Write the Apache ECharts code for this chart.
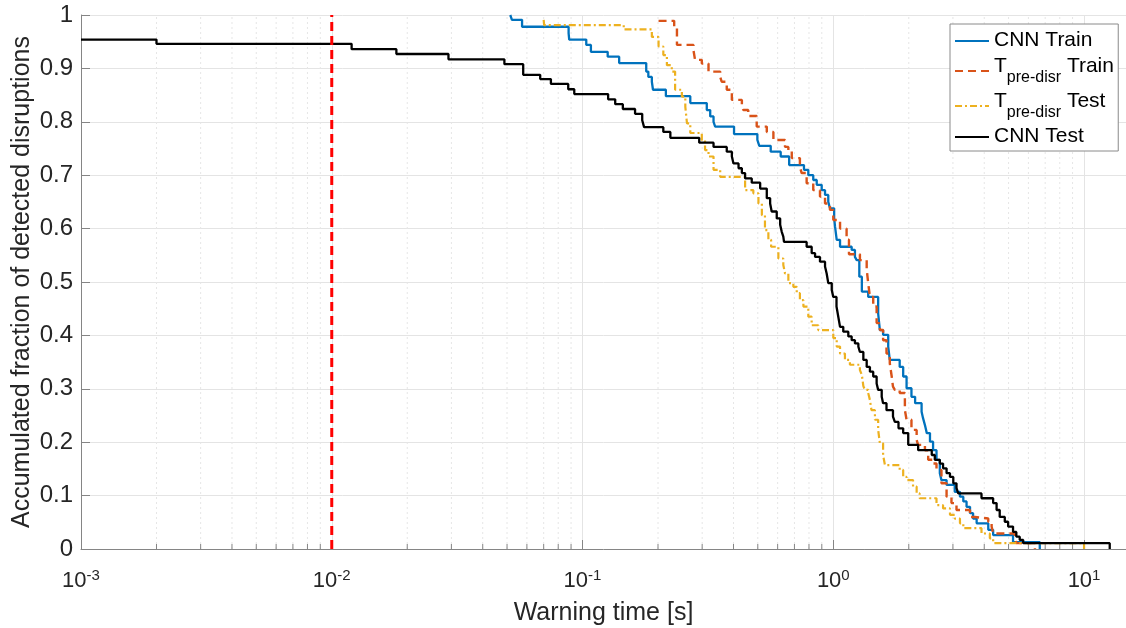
<!DOCTYPE html>
<html>
<head>
<meta charset="utf-8">
<script src="https://cdn.jsdelivr.net/npm/echarts@6/dist/echarts.min.js"></script>
<style>
  html, body { margin: 0; padding: 0; background: #fff; }
  #chart { width: 1126px; height: 628px; }
</style>
</head>
<body>
<div id="chart"></div>
<script>
// Accumulated fraction of detected disruptions vs. warning time (step curves)
const FONT = '"Liberation Sans", Arial, Helvetica, sans-serif';

const xMin = 0.001;
const xMax = 14.7;
const warningThreshold = 0.01;

// [warning time (s), fraction] — each point starts a new level of the staircase
const cnnTrain = [
  [0.0515, 1.0], [0.0523, 0.991], [0.0574, 0.978], [0.088, 0.966], [0.0885, 0.954],
  [0.1035, 0.944], [0.108, 0.931], [0.126, 0.922], [0.140, 0.910], [0.1795, 0.894],
  [0.183, 0.884], [0.189, 0.875], [0.191, 0.860], [0.215, 0.848], [0.269, 0.835],
  [0.313, 0.822], [0.323, 0.810], [0.333, 0.800], [0.338, 0.791], [0.402, 0.777],
  [0.498, 0.766], [0.507, 0.755], [0.563, 0.744], [0.617, 0.735], [0.667, 0.719],
  [0.764, 0.710], [0.795, 0.700], [0.832, 0.691], [0.859, 0.682], [0.899, 0.672],
  [0.927, 0.663], [0.955, 0.650], [0.970, 0.638], [1.008, 0.620], [1.016, 0.604],
  [1.032, 0.579], [1.064, 0.566], [1.184, 0.560], [1.22, 0.547], [1.24, 0.541],
  [1.27, 0.510], [1.30, 0.482], [1.378, 0.472], [1.51, 0.441], [1.534, 0.410],
  [1.58, 0.401], [1.656, 0.379], [1.68, 0.354], [1.84, 0.341], [1.90, 0.323],
  [1.96, 0.301], [2.05, 0.285], [2.12, 0.273], [2.25, 0.257], [2.28, 0.245],
  [2.32, 0.232], [2.36, 0.217], [2.43, 0.201], [2.50, 0.185], [2.58, 0.167],
  [2.66, 0.142], [2.70, 0.129], [2.83, 0.120], [3.05, 0.107], [3.20, 0.098],
  [3.30, 0.089], [3.40, 0.079], [3.51, 0.067], [3.61, 0.057], [3.73, 0.048],
  [4.15, 0.036], [4.34, 0.026], [5.21, 0.013], [6.66, 0]
];

const tpreTrain = [
  [0.201, 0.989], [0.232, 0.978], [0.238, 0.944], [0.277, 0.934], [0.281, 0.916],
  [0.299, 0.909], [0.318, 0.894], [0.354, 0.884], [0.359, 0.875], [0.376, 0.860],
  [0.394, 0.841], [0.432, 0.828], [0.438, 0.822], [0.458, 0.811], [0.495, 0.791],
  [0.543, 0.781], [0.577, 0.766], [0.642, 0.753], [0.662, 0.747], [0.683, 0.732],
  [0.736, 0.716], [0.748, 0.704], [0.783, 0.685], [0.832, 0.672], [0.885, 0.660],
  [0.927, 0.647], [0.970, 0.635], [1.0, 0.616], [1.064, 0.600], [1.13, 0.579],
  [1.155, 0.552], [1.277, 0.541], [1.359, 0.524], [1.378, 0.498], [1.40, 0.472],
  [1.443, 0.454], [1.489, 0.423], [1.534, 0.410], [1.58, 0.391], [1.63, 0.366],
  [1.68, 0.348], [1.71, 0.323], [1.73, 0.304], [1.76, 0.298], [1.84, 0.292],
  [1.93, 0.260], [1.96, 0.242], [2.05, 0.223], [2.15, 0.204], [2.18, 0.195],
  [2.32, 0.185], [2.39, 0.167], [2.50, 0.160], [2.58, 0.148], [2.70, 0.123],
  [2.83, 0.098], [2.96, 0.086], [3.10, 0.073], [3.51, 0.060], [3.67, 0.057],
  [4.15, 0.051], [4.28, 0.042], [4.34, 0.029], [5.30, 0.023], [5.37, 0.011],
  [6.37, 0]
];

const tpreTest = [
  [0.0700, 0.991], [0.0703, 0.981], [0.146, 0.973], [0.189, 0.959], [0.201, 0.941],
  [0.210, 0.925], [0.217, 0.906], [0.227, 0.894], [0.234, 0.860], [0.249, 0.847],
  [0.257, 0.828], [0.261, 0.797], [0.269, 0.779], [0.299, 0.766], [0.308, 0.747],
  [0.318, 0.735], [0.333, 0.710], [0.354, 0.697], [0.445, 0.672], [0.480, 0.666],
  [0.503, 0.647], [0.519, 0.625], [0.534, 0.597], [0.551, 0.579], [0.565, 0.566],
  [0.604, 0.544], [0.632, 0.532], [0.642, 0.516], [0.662, 0.498], [0.693, 0.491],
  [0.715, 0.479], [0.736, 0.466], [0.760, 0.454], [0.795, 0.435], [0.820, 0.419],
  [0.871, 0.410], [1.0, 0.395], [1.032, 0.379], [1.064, 0.366], [1.113, 0.354],
  [1.165, 0.345], [1.277, 0.335], [1.30, 0.326], [1.318, 0.305], [1.337, 0.298],
  [1.378, 0.292], [1.40, 0.279], [1.42, 0.260], [1.466, 0.242], [1.51, 0.223],
  [1.534, 0.198], [1.58, 0.176], [1.607, 0.157], [1.84, 0.148], [1.90, 0.135],
  [1.96, 0.129], [2.08, 0.117], [2.15, 0.104], [2.21, 0.095], [2.58, 0.082],
  [2.74, 0.076], [2.92, 0.064], [3.05, 0.057], [3.20, 0.048], [3.30, 0.039],
  [3.90, 0.029], [4.21, 0.020], [4.34, 0.011], [10.0, 0]
];

const cnnTest = [
  [0.001, 0.954], [0.002, 0.946], [0.012, 0.936], [0.0181, 0.927], [0.0292, 0.917],
  [0.0488, 0.908], [0.058, 0.888], [0.0678, 0.880], [0.0748, 0.871], [0.0877, 0.861],
  [0.0927, 0.852], [0.1265, 0.842], [0.135, 0.833], [0.1448, 0.824], [0.162, 0.815],
  [0.173, 0.803], [0.176, 0.790], [0.210, 0.781], [0.224, 0.770], [0.292, 0.761],
  [0.333, 0.753], [0.376, 0.744], [0.394, 0.735], [0.400, 0.722], [0.419, 0.713],
  [0.432, 0.704], [0.445, 0.694], [0.473, 0.686], [0.511, 0.675], [0.543, 0.657],
  [0.560, 0.647], [0.568, 0.632], [0.595, 0.619], [0.614, 0.607], [0.623, 0.594],
  [0.632, 0.585], [0.636, 0.575], [0.783, 0.566], [0.820, 0.554], [0.846, 0.547],
  [0.885, 0.538], [0.927, 0.529], [0.941, 0.516], [0.955, 0.498], [0.986, 0.485],
  [1.0, 0.472], [1.03, 0.454], [1.047, 0.435], [1.064, 0.416], [1.096, 0.407],
  [1.148, 0.398], [1.184, 0.391], [1.22, 0.385], [1.259, 0.379], [1.277, 0.369],
  [1.318, 0.354], [1.359, 0.341], [1.40, 0.332], [1.443, 0.323], [1.489, 0.310],
  [1.51, 0.298], [1.56, 0.285], [1.58, 0.273], [1.63, 0.260], [1.73, 0.248],
  [1.76, 0.238], [1.82, 0.226], [1.90, 0.217], [1.99, 0.195], [2.18, 0.185],
  [2.47, 0.176], [2.54, 0.167], [2.66, 0.160], [2.74, 0.151], [2.83, 0.142],
  [2.92, 0.135], [3.01, 0.123], [3.10, 0.114], [3.15, 0.104], [3.90, 0.095],
  [4.34, 0.086], [4.48, 0.073], [4.61, 0.060], [4.83, 0.051], [4.98, 0.042],
  [5.21, 0.032], [5.37, 0.023], [5.54, 0.017], [5.72, 0.011], [12.66, 0]
];

const seriesNames = ['CNN Train', 'Tpre-disr Train', 'Tpre-disr Test', 'CNN Test'];
const yTickLabels = ['0', '0.1', '0.2', '0.3', '0.4', '0.5', '0.6', '0.7', '0.8', '0.9', '1'];

// minor (2..9 x 10^k) positions for the log axis grid and ticks
const minorPositions = [];
for (let k = -3; k <= 1; k++) {
  for (let m = 2; m <= 9; m++) {
    const v = m * Math.pow(10, k);
    if (v < xMax) minorPositions.push([v, 0]);
  }
}

const TEXT = '#262626';
const AXIS = '#858585';
const GRID = '#e4e4e4';

function legendLabel(name) {
  if (name.indexOf('Tpre-disr') === 0) {
    return '{t|T}{s|pre-disr}{t|' + name.slice(9) + '}{g| }';
  }
  return '{t|' + name + '}';
}

const chart = echarts.init(document.getElementById('chart'), null, { renderer: 'canvas' });

chart.setOption({
  animation: false,
  backgroundColor: '#ffffff',
  textStyle: { fontFamily: FONT },
  grid: { left: 81, right: 0, top: 15, bottom: 79, containLabel: false, outerBoundsMode: 'none' },
  legend: {
    orient: 'vertical',
    left: 950,
    top: 24,
    data: seriesNames,
    backgroundColor: '#ffffff',
    borderColor: '#8a8a8a',
    borderWidth: 1,
    borderRadius: 0,
    padding: [6, 4, 4, 4],
    itemGap: 5,
    itemWidth: 34,
    itemHeight: 12,
    selectedMode: false,
    itemStyle: { opacity: 0 },
    formatter: legendLabel,
    textStyle: {
      color: '#000',
      fontFamily: FONT,
      fontSize: 21,
      rich: {
        t: { fontSize: 21, lineHeight: 22, verticalAlign: 'top', color: '#000', fontFamily: FONT },
        s: { fontSize: 16, lineHeight: 16, verticalAlign: 'bottom', color: '#000', fontFamily: FONT },
        g: { fontSize: 1, lineHeight: 30 }
      }
    }
  },
  xAxis: {
    type: 'log',
    logBase: 10,
    min: xMin,
    max: xMax,
    name: 'Warning time [s]',
    nameLocation: 'middle',
    nameGap: 52,
    nameMoveOverlap: false,
    nameTextStyle: { color: TEXT, fontSize: 25, fontFamily: FONT },
    axisLine: { show: true, onZero: false, lineStyle: { color: AXIS, width: 1 } },
    axisTick: { show: true, inside: true, length: 9, lineStyle: { color: AXIS } },
    axisLabel: {
      margin: 19,
      showMaxLabel: false,
      color: TEXT,
      formatter: function (v) {
        const e = Math.round(Math.log10(v));
        return '{b|10}{e|' + e + '}';
      },
      rich: {
        b: { fontSize: 22, lineHeight: 26, verticalAlign: 'middle', color: TEXT, fontFamily: FONT },
        e: { fontSize: 15, lineHeight: 12, verticalAlign: 'top', color: TEXT, fontFamily: FONT }
      }
    },
    splitLine: { show: true, lineStyle: { color: GRID, width: 1 } }
  },
  yAxis: {
    type: 'value',
    min: 0,
    max: 1,
    interval: 0.1,
    name: 'Accumulated fraction of detected disruptions',
    nameLocation: 'middle',
    nameGap: 46,
    nameMoveOverlap: false,
    nameTextStyle: { color: TEXT, fontSize: 25, fontFamily: FONT },
    axisLine: { show: true, lineStyle: { color: AXIS, width: 1 } },
    axisTick: { show: true, inside: true, length: 9, lineStyle: { color: AXIS } },
    axisLabel: {
      margin: 8,
      color: TEXT,
      fontSize: 24,
      fontFamily: FONT,
      formatter: function (v) { return yTickLabels[Math.round(v * 10)]; }
    },
    splitLine: { show: true, lineStyle: { color: GRID, width: 1 } }
  },
  series: [
    {
      name: 'minor grid',
      type: 'custom',
      silent: true,
      z: 1,
      data: minorPositions,
      encode: { x: 0, y: 1 },
      renderItem: function (params, api) {
        const v = api.value(0);
        const bot = api.coord([v, 0]);
        const top = api.coord([v, 1]);
        return {
          type: 'group',
          children: [
            {
              type: 'line',
              shape: { x1: bot[0], y1: bot[1], x2: top[0], y2: top[1] },
              style: { stroke: '#e6e6e6', lineWidth: 1, lineDash: [2, 3] }
            },
            {
              type: 'line',
              shape: { x1: bot[0], y1: bot[1], x2: bot[0], y2: bot[1] - 5 },
              style: { stroke: AXIS, lineWidth: 1 }
            }
          ]
        };
      }
    },
    {
      name: seriesNames[0],
      type: 'line',
      step: 'end',
      data: cnnTrain,
      symbol: 'none',
      z: 3,
      color: '#0072BD',
      lineStyle: { color: '#0072BD', width: 2.3 }
    },
    {
      name: seriesNames[1],
      type: 'line',
      step: 'end',
      data: tpreTrain,
      symbol: 'none',
      z: 3,
      color: '#D95319',
      lineStyle: { color: '#D95319', width: 2.4, type: [8, 5] }
    },
    {
      name: seriesNames[2],
      type: 'line',
      step: 'end',
      data: tpreTest,
      symbol: 'none',
      z: 3,
      color: '#EDB120',
      lineStyle: { color: '#EDB120', width: 2.2, type: [7, 3, 2, 3] }
    },
    {
      name: seriesNames[3],
      type: 'line',
      step: 'end',
      data: cnnTest,
      symbol: 'none',
      z: 4,
      color: '#000000',
      lineStyle: { color: '#000000', width: 2.3 }
    },
    {
      name: 'threshold',
      type: 'line',
      data: [[warningThreshold, 0], [warningThreshold, 1]],
      symbol: 'none',
      z: 5,
      color: '#FF0000',
      lineStyle: { color: '#FF0000', width: 3, type: [9, 5] }
    }
  ]
});
</script>
</body>
</html>
